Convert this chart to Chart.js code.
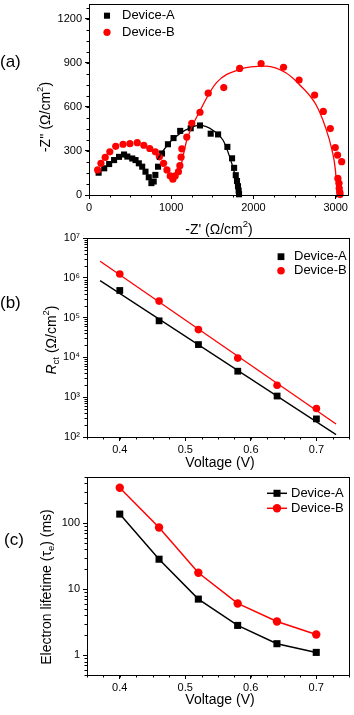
<!DOCTYPE html>
<html>
<head>
<meta charset="utf-8">
<script src="https://cdn.jsdelivr.net/npm/chart.js@4.4.1/dist/chart.umd.min.js"></script>
<style>
    body { margin: 0; background: #fff; }
    #wrap { position: relative; width: 354px; height: 715px; }
    canvas { position: absolute; left: 0; }
</style>
</head>
<body>
<div id="wrap">
    <canvas id="chartA" width="354" height="240" style="top:0px"></canvas>
    <canvas id="chartB" width="354" height="250" style="top:220px"></canvas>
    <canvas id="chartC" width="354" height="255" style="top:460px"></canvas>
</div>
<script>
// (a) Nyquist plot
const zReA = [117, 185, 245, 305, 365, 426, 466, 526, 566, 606, 647, 687, 727, 759, 787, 807, 840, 888, 960, 1028, 1109, 1237, 1350, 1480, 1570, 1683, 1740, 1765, 1785, 1800, 1812, 1820, 1825];
const zImA = [152, 182, 211, 238, 260, 276, 262, 249, 238, 216, 193, 159, 121, 81, 92, 137, 193, 283, 346, 388, 437, 455, 474, 418, 413, 328, 250, 185, 135, 95, 60, 30, 5];
const zReB = [105, 145, 197, 253, 325, 414, 498, 587, 667, 739, 807, 856, 907, 948, 988, 1020, 1048, 1088, 1105, 1120, 1129, 1189, 1250, 1350, 1450, 1639, 1832, 2093, 2366, 2555, 2744, 2850, 2935, 2995, 3023, 3073, 3027, 3041, 3043, 3051, 3053];
const zImB = [171, 216, 256, 294, 332, 346, 350, 357, 339, 317, 294, 260, 216, 171, 130, 108, 130, 159, 200, 258, 315, 395, 489, 564, 694, 732, 863, 896, 871, 784, 681, 570, 453, 323, 272, 227, 113, 80, 46, 18, 3];
const fitAx = [830, 900, 1000, 1109, 1229, 1350, 1510, 1631, 1711, 1771, 1800, 1823];
const fitAy = [240, 300, 370, 420, 458, 474, 440, 373, 260, 148, 80, 2];
const fitBx = [1040, 1109, 1189, 1350, 1551, 1832, 2153, 2394, 2555, 2756, 2876, 2956, 2997, 3017];
const fitBy = [110, 182, 373, 575, 766, 856, 878, 833, 755, 620, 462, 305, 170, 13];
const zReTicks = [0, 1000, 2000, 3000];
const zImTicks = [0, 300, 600, 900, 1200];

// (b) charge transfer resistance
const voltage = [0.40, 0.46, 0.52, 0.58, 0.64, 0.70];
const rctA = [4.8e5, 8.3e4, 2.1e4, 4.5e3, 1.07e3, 285];
const rctB = [1.25e6, 2.6e5, 5.0e4, 9.6e3, 2.0e3, 520];
const fitV = [0.37, 0.73];
const rctFitA = [8.5e5, 115];
const rctFitB = [2.6e6, 212];
const rctTicks = [1e2, 1e3, 1e4, 1e5, 1e6, 1e7];

// (c) electron lifetime
const tauA = [137, 28.4, 7.06, 2.82, 1.49, 1.10];
const tauB = [344, 85.9, 17.7, 6.07, 3.24, 2.05];
const tauTicks = [1, 10, 100];
const voltTicks = [0.4, 0.5, 0.6, 0.7];

const FONT = '"Liberation Sans", Arial, sans-serif';
const RED = "#ff0000";
const SUP = { 2: "\u00b2", 3: "\u00b3", 4: "\u2074", 5: "\u2075", 6: "\u2076", 7: "\u2077" };

function zip(xs, ys) {
    return xs.map((x, i) => ({ x: x, y: ys[i] }));
}

function steps(from, to, step) {
    const out = [];
    for (let v = from; v <= to + 1e-9; v += step) out.push(+v.toFixed(4));
    return out;
}

function logMinors(lo, hi) {
    const out = [];
    for (let d = lo; d < hi; d *= 10) {
        for (let k = 2; k <= 9; k++) out.push(d * k);
    }
    return out;
}

function drawRich(ctx, parts, x, y, size, rotate) {
    const fontOf = p => {
        const small = p[1] === "sub" || p[1] === "sup";
        return (p[1] === "i" ? "italic " : "") + (small ? size * 0.68 : size) + "px " + FONT;
    };
    ctx.save();
    ctx.translate(x, y);
    if (rotate) ctx.rotate(-Math.PI / 2);
    let w = 0;
    parts.forEach(p => { ctx.font = fontOf(p); w += ctx.measureText(p[0]).width; });
    let cx = -w / 2;
    ctx.fillStyle = "#000";
    ctx.textAlign = "left";
    ctx.textBaseline = "middle";
    parts.forEach(p => {
        ctx.font = fontOf(p);
        const dy = p[1] === "sub" ? size * 0.3 : p[1] === "sup" ? -size * 0.38 : 0;
        ctx.fillText(p[0], cx, dy);
        cx += ctx.measureText(p[0]).width;
    });
    ctx.restore();
}

function drawMarker(ctx, style, x, y, r, color) {
    ctx.fillStyle = color;
    ctx.beginPath();
    if (style === "rect") {
        const s = r * Math.SQRT1_2;
        ctx.rect(x - s, y - s, 2 * s, 2 * s);
    } else {
        ctx.arc(x, y, r, 0, Math.PI * 2);
    }
    ctx.fill();
}

// frame, minor ticks, titles, legend, panel letter
const decoPlugin = {
    id: "deco",
    afterDraw(chart, args, o) {
        const ctx = chart.ctx;
        const a = chart.chartArea;
        const xs = chart.scales.x;
        const ys = chart.scales.y;
        ctx.save();
        ctx.strokeStyle = "#000";
        ctx.lineWidth = 1;
        ctx.strokeRect(Math.round(a.left) + 0.5, Math.round(a.top) + 0.5,
            Math.round(a.right - a.left), Math.round(a.bottom - a.top));
        ctx.beginPath();
        o.xMinor.forEach(v => {
            const px = Math.round(xs.getPixelForValue(v)) + 0.5;
            ctx.moveTo(px, a.bottom);
            ctx.lineTo(px, a.bottom + 2.5);
        });
        o.yMinor.forEach(v => {
            const py = Math.round(ys.getPixelForValue(v)) + 0.5;
            ctx.moveTo(a.left, py);
            ctx.lineTo(a.left - 2.5, py);
        });
        ctx.stroke();

        drawRich(ctx, o.xTitle, o.xTitlePos[0], o.xTitlePos[1], 14, false);
        drawRich(ctx, o.yTitle, o.yTitlePos[0], o.yTitlePos[1], 14, true);

        ctx.font = "17px " + FONT;
        ctx.fillStyle = "#000";
        ctx.textAlign = "left";
        ctx.textBaseline = "middle";
        ctx.fillText(o.letter, o.letterPos[0], o.letterPos[1]);

        const L = o.legend;
        L.items.forEach((it, i) => {
            const y = L.y[i];
            if (L.line) {
                ctx.strokeStyle = it.color;
                ctx.lineWidth = 1.5;
                ctx.beginPath();
                ctx.moveTo(L.line[0], y);
                ctx.lineTo(L.line[1], y);
                ctx.stroke();
            }
            drawMarker(ctx, it.style, L.markerX, y, it.r, it.color);
            ctx.font = "13px " + FONT;
            ctx.fillStyle = "#000";
            ctx.textAlign = "left";
            ctx.textBaseline = "middle";
            ctx.fillText(it.text, L.textX, y);
        });
        ctx.restore();
    }
};

function axisX(min, max, type, ticks, height, labelCb) {
    return {
        type: type, min: min, max: max,
        afterBuildTicks: s => { s.ticks = ticks.map(v => ({ value: v })); },
        afterFit: s => { s.height = height; s.paddingLeft = 0; s.paddingRight = 0; },
        ticks: {
            color: "#000", font: { family: FONT, size: 11 }, padding: 2,
            autoSkip: false, maxRotation: 0, includeBounds: false,
            callback: labelCb || (v => v)
        },
        grid: { drawOnChartArea: false, drawTicks: true, tickLength: 4, color: "#000", tickColor: "#000" },
        border: { color: "#000", width: 1 }
    };
}

function axisY(min, max, type, ticks, width, labelCb) {
    return {
        type: type, min: min, max: max,
        afterBuildTicks: s => { s.ticks = ticks.map(v => ({ value: v })); },
        afterFit: s => { s.width = width; s.paddingTop = 0; s.paddingBottom = 0; },
        ticks: {
            color: "#000", font: { family: FONT, size: 11 }, padding: 3,
            autoSkip: false, includeBounds: false,
            callback: labelCb || (v => v)
        },
        grid: { drawOnChartArea: false, drawTicks: true, tickLength: 4, color: "#000", tickColor: "#000" },
        border: { color: "#000", width: 1 }
    };
}

function baseOptions(padding, scales, deco) {
    return {
        responsive: false,
        animation: false,
        layout: { padding: padding },
        scales: scales,
        plugins: { legend: { display: false }, tooltip: { enabled: false }, deco: deco }
    };
}

const legendA = { text: "Device-A", style: "rect", color: "#000" };
const legendB = { text: "Device-B", style: "circle", color: RED };

// (a)
new Chart(document.getElementById("chartA"), {
    type: "scatter",
    data: {
        datasets: [
            { label: "Device-A", data: zip(zReA, zImA), pointStyle: "rect", pointRadius: 4.3, backgroundColor: "#000", borderWidth: 0, order: 4, clip: false },
            { label: "Device-B", data: zip(zReB, zImB), pointStyle: "circle", pointRadius: 3.6, backgroundColor: RED, borderWidth: 0, order: 3, clip: false },
            { label: "fit A", data: zip(fitAx, fitAy), showLine: true, pointRadius: 0, borderColor: "#000", borderWidth: 1.3, cubicInterpolationMode: "monotone", order: 2 },
            { label: "fit B", data: zip(fitBx, fitBy), showLine: true, pointRadius: 0, borderColor: RED, borderWidth: 1.3, cubicInterpolationMode: "monotone", order: 1 }
        ]
    },
    options: baseOptions({ top: 2, right: 6, left: 0, bottom: 0 }, {
        x: axisX(0, 3150, "linear", zReTicks, 45),
        y: axisY(0, 1300, "linear", zImTicks, 89)
    }, {
        xMinor: steps(0, 3150, 250),
        yMinor: steps(0, 1300, 75),
        xTitle: [["-Z' (\u03a9/cm", ""], ["2", "sup"], [")", ""]],
        xTitlePos: [219, 230],
        yTitle: [["-Z'' (\u03a9/cm", ""], ["2", "sup"], [")", ""]],
        yTitlePos: [46, 117],
        letter: "(a)",
        letterPos: [0, 62],
        legend: {
            markerX: 107, textX: 122, y: [15.7, 32.3],
            items: [Object.assign({ r: 4.3 }, legendA), Object.assign({ r: 3.6 }, legendB)]
        }
    }),
    plugins: [decoPlugin]
});

// (b)
new Chart(document.getElementById("chartB"), {
    type: "scatter",
    data: {
        datasets: [
            { label: "Device-A", data: zip(voltage, rctA), pointStyle: "rect", pointRadius: 4.8, backgroundColor: "#000", borderWidth: 0, order: 4, clip: false },
            { label: "Device-B", data: zip(voltage, rctB), pointStyle: "circle", pointRadius: 3.8, backgroundColor: RED, borderWidth: 0, order: 3, clip: false },
            { label: "fit A", data: zip(fitV, rctFitA), showLine: true, pointRadius: 0, borderColor: "#000", borderWidth: 1.3, order: 2 },
            { label: "fit B", data: zip(fitV, rctFitB), showLine: true, pointRadius: 0, borderColor: RED, borderWidth: 1.3, order: 1 }
        ]
    },
    options: baseOptions({ top: 18, right: 4, left: 0, bottom: 0 }, {
        x: axisX(0.35, 0.75, "linear", voltTicks, 33, v => v.toFixed(1)),
        y: axisY(1e2, 1e7, "logarithmic", rctTicks, 87, v => "10" + SUP[Math.round(Math.log10(v))])
    }, {
        xMinor: steps(0.35, 0.75, 0.025),
        yMinor: logMinors(1e2, 1e7),
        xTitle: [["Voltage (V)", ""]],
        xTitlePos: [220, 243],
        yTitle: [["R", "i"], ["ct", "sub"], [" (\u03a9/cm", ""], ["2", "sup"], [")", ""]],
        yTitlePos: [52, 120],
        letter: "(b)",
        letterPos: [0, 83],
        legend: {
            markerX: 281, textX: 294, y: [36.7, 50.7],
            items: [Object.assign({ r: 4.8 }, legendA), Object.assign({ r: 3.8 }, legendB)]
        }
    }),
    plugins: [decoPlugin]
});

// (c)
new Chart(document.getElementById("chartC"), {
    type: "scatter",
    data: {
        datasets: [
            { label: "Device-A", data: zip(voltage, tauA), showLine: true, pointStyle: "rect", pointRadius: 5, backgroundColor: "#000", borderColor: "#000", borderWidth: 1.5, pointBorderWidth: 0, order: 2, clip: false },
            { label: "Device-B", data: zip(voltage, tauB), showLine: true, pointStyle: "circle", pointRadius: 4.2, backgroundColor: RED, borderColor: RED, borderWidth: 1.5, pointBorderWidth: 0, order: 1, clip: false }
        ]
    },
    options: baseOptions({ top: 17, right: 4, left: 0, bottom: 0 }, {
        x: axisX(0.35, 0.75, "linear", voltTicks, 40, v => v.toFixed(1)),
        y: axisY(0.5, 500, "logarithmic", tauTicks, 87, v => String(v))
    }, {
        xMinor: steps(0.35, 0.75, 0.025),
        yMinor: [0.5, 0.6, 0.7, 0.8, 0.9].concat(logMinors(1, 100), [200, 300, 400, 500]),
        xTitle: [["Voltage (V)", ""]],
        xTitlePos: [220, 240],
        yTitle: [["Electron lifetime (\u03c4", ""], ["e", "sub"], [") (ms)", ""]],
        yTitlePos: [47, 127],
        letter: "(c)",
        letterPos: [4, 80],
        legend: {
            markerX: 277, textX: 291, y: [33.3, 48.3], line: [267, 287],
            items: [Object.assign({ r: 5 }, legendA), Object.assign({ r: 4.2 }, legendB)]
        }
    }),
    plugins: [decoPlugin]
});
</script>
</body>
</html>
